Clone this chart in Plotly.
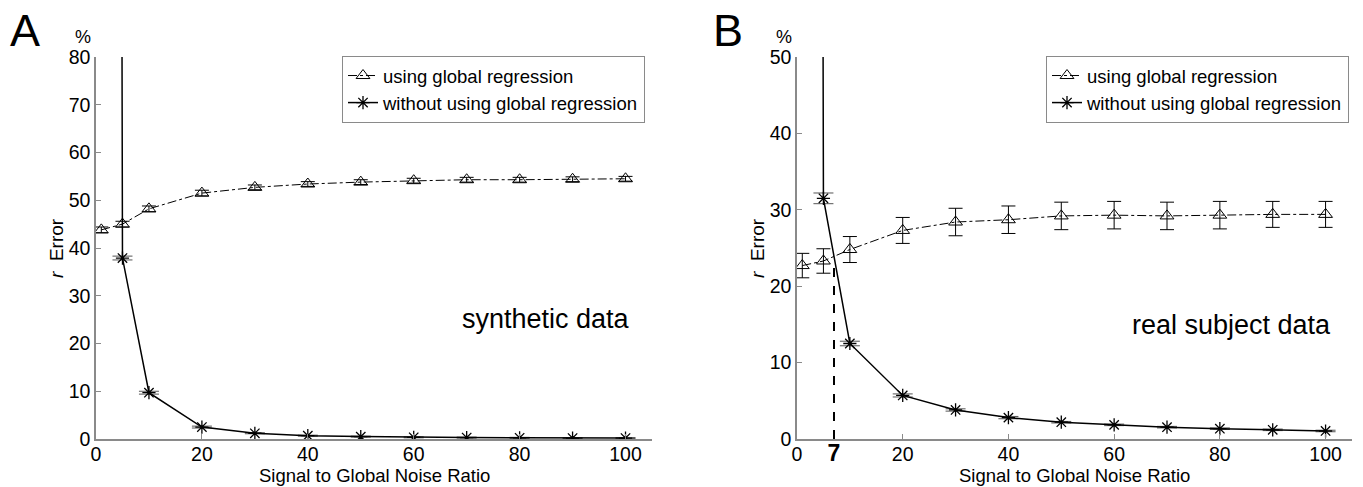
import plotly.graph_objects as go

# ---------------- data ----------------
snr = [1, 5, 10, 20, 30, 40, 50, 60, 70, 80, 90, 100]

# Panel A (synthetic data)
a_glob = [43.8, 45.0, 48.2, 51.5, 52.7, 53.4, 53.8, 54.1, 54.3, 54.3, 54.4, 54.5]
a_glob_err = [0.6, 0.6, 0.6, 0.6, 0.5, 0.5, 0.5, 0.5, 0.5, 0.5, 0.5, 0.5]
a_noglob = [2000, 37.9, 9.7, 2.5, 1.2, 0.7, 0.5, 0.35, 0.3, 0.25, 0.2, 0.2]
a_noglob_err = [0, 0.4, 0.3, 0.2, 0.1, 0.1, 0.1, 0.1, 0.1, 0.1, 0.1, 0.1]

# Panel B (real subject data)
b_glob = [22.7, 23.3, 24.8, 27.3, 28.4, 28.7, 29.2, 29.3, 29.2, 29.3, 29.4, 29.4]
b_glob_err = [1.6, 1.6, 1.7, 1.7, 1.8, 1.8, 1.8, 1.8, 1.8, 1.8, 1.7, 1.7]
b_noglob = [1200, 31.5, 12.5, 5.7, 3.8, 2.8, 2.2, 1.85, 1.55, 1.35, 1.2, 1.05]
b_noglob_err = [0, 0.7, 0.3, 0.2, 0.15, 0.15, 0.1, 0.1, 0.1, 0.1, 0.1, 0.1]

cross_x = 7
cross_y = 23.5

a_yticks = [0, 10, 20, 30, 40, 50, 60, 70, 80]
b_yticks = [0, 10, 20, 30, 40, 50]
a_xticks = [0, 20, 40, 60, 80, 100]
b_xticks = [0, 7, 20, 40, 60, 80, 100]
b_xticktext = ["0", "<b><span style='font-size:23px'>7</span></b>", "20", "40", "60", "80", "100"]

FONT = "Liberation Sans, Arial, sans-serif"
W, H = 1363, 487

def px(x):
    return x / W

def py(y):
    return 1 - y / H

fig = go.Figure()

def add_series(xa, ya, leg, glob, glob_err, noglob, noglob_err):
    fig.add_trace(go.Scatter(
        x=snr, y=glob, xaxis=xa, yaxis=ya, legend=leg,
        name="using global regression", mode="lines+markers",
        line=dict(color="black", width=1, dash="dashdot"),
        marker=dict(symbol="triangle-up-open", size=12, color="black",
                    line=dict(width=1, color="black")),
        error_y=dict(type="data", array=glob_err, color="black", thickness=1, width=7),
    ))
    fig.add_trace(go.Scatter(
        x=snr, y=noglob, xaxis=xa, yaxis=ya, legend=leg,
        name="without using global regression", mode="lines+markers",
        line=dict(color="black", width=1.5),
        marker=dict(symbol="asterisk-open", size=11, color="black",
                    line=dict(width=1.3, color="black")),
        error_y=dict(type="data", array=noglob_err, color="#555", thickness=1, width=10),
    ))

add_series("x", "y", "legend", a_glob, a_glob_err, a_noglob, a_noglob_err)
add_series("x2", "y2", "legend2", b_glob, b_glob_err, b_noglob, b_noglob_err)

axis_common = dict(
    showline=True, linecolor="#8a8a8a", linewidth=1.5,
    ticks="inside", ticklen=5, tickcolor="#8a8a8a", tickwidth=1,
    showgrid=False, zeroline=False, automargin=False,
    tickfont=dict(family=FONT, size=19.5, color="black"),
)
xaxis_extra = dict(ticklabelstandoff=-3)

ydom = [py(439), py(57)]
legend_common = dict(xanchor="right", y=py(56), yanchor="top",
                     bgcolor="white", bordercolor="#8a8a8a", borderwidth=1,
                     font=dict(family=FONT, size=18.5, color="black"),
                     tracegroupgap=0, itemwidth=30)
fig.update_layout(
    width=W, height=H,
    margin=dict(l=0, r=0, t=0, b=0, pad=0, autoexpand=False),
    paper_bgcolor="white", plot_bgcolor="white",
    font=dict(family=FONT, color="black"),
    xaxis=dict(domain=[px(96), px(652)], range=[0, 105], tickvals=a_xticks,
               anchor="y", **axis_common, **xaxis_extra),
    yaxis=dict(domain=ydom, range=[0, 80], tickvals=a_yticks, anchor="x", **axis_common),
    xaxis2=dict(domain=[px(797), px(1352)], range=[0, 105], tickvals=b_xticks,
                ticktext=b_xticktext, anchor="y2", **axis_common, **xaxis_extra),
    yaxis2=dict(domain=ydom, range=[0, 50], tickvals=b_yticks, anchor="x2", **axis_common),
    legend=dict(x=px(645), **legend_common),
    legend2=dict(x=px(1349), **legend_common),
    showlegend=True,
)

# dashed crossing line in panel B
fig.add_shape(type="line", xref="x2", yref="y2", x0=cross_x, x1=cross_x, y0=0, y1=cross_y,
              line=dict(color="black", width=2, dash="dash"))

ann = []
# panel letters
ann.append(dict(text="A", x=px(25), y=py(30), font=dict(size=45)))
ann.append(dict(text="B", x=px(728), y=py(30), font=dict(size=45)))
# percent signs
ann.append(dict(text="%", x=px(83), y=py(37), font=dict(size=18)))
ann.append(dict(text="%", x=px(784), y=py(37), font=dict(size=18)))
# y titles
for xc in (56, 757):
    ann.append(dict(text="<i>r</i>  Error", x=px(xc), y=(ydom[0] + ydom[1]) / 2,
                    textangle=-90, font=dict(size=19)))
# x titles
ann.append(dict(text="Signal to Global Noise Ratio", x=px(374), y=py(475), font=dict(size=18.5)))
ann.append(dict(text="Signal to Global Noise Ratio", x=px(1074), y=py(475), font=dict(size=18.5)))
# panel notes
ann.append(dict(text="synthetic data", x=px(546), y=py(319), font=dict(size=27)))
ann.append(dict(text="real subject data", x=px(1231), y=py(325), font=dict(size=27)))

for a in ann:
    a.update(xref="paper", yref="paper", showarrow=False, xanchor="center", yanchor="middle")
    a["font"].update(family=FONT, color="black")
    fig.add_annotation(**a)

# remove the default 8px page margin so the figure fills the window exactly
fig.write_html("out.html", config={"displayModeBar": False},
               post_script="document.body.style.margin='0px';")
